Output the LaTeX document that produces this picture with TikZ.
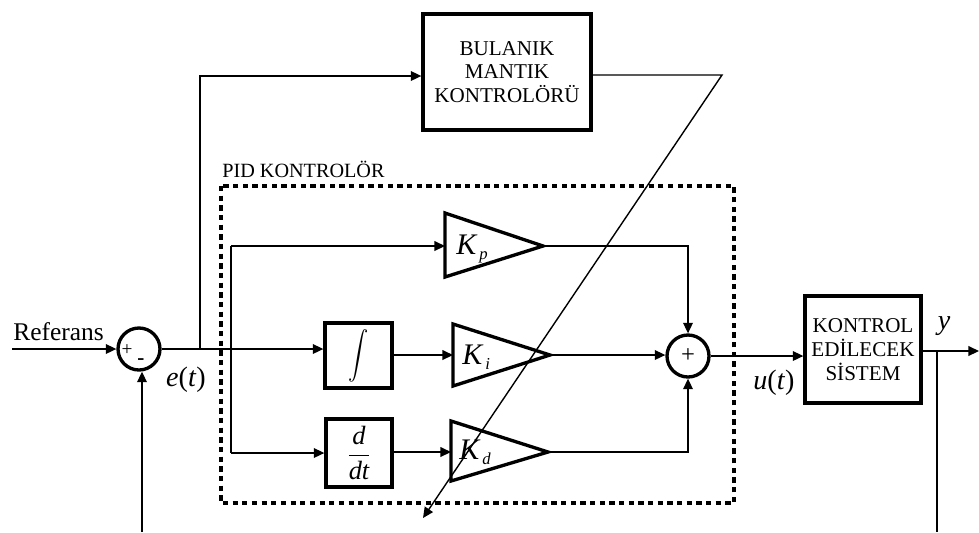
\documentclass[tikz,border=0pt]{standalone}
\usepackage{fontspec}
\usepackage{graphicx}
\setmainfont{Liberation Serif}
\usetikzlibrary{arrows.meta}
\newcommand{\gainlabel}[1]{\fontsize{17}{19}\selectfont\textit{K}\hspace{1pt}\raisebox{-3pt}{\fontsize{9.5}{11}\selectfont\textit{#1}}}
\begin{document}
\begin{tikzpicture}[x=0.02cm,y=-0.02cm,
  conn/.style={line width=0.8pt},
  arr/.style={conn,-{Triangle[length=6pt,width=5.5pt]}},
  blk/.style={draw,line width=1.9pt,inner sep=0pt,align=center,font=\fontsize{12}{13.5}\selectfont},
  sumc/.style={draw,circle,line width=1.9pt,minimum size=0.84cm,inner sep=0pt},
  gain/.style={draw,line width=1.9pt,line join=miter},
  lbl/.style={inner sep=0pt},
  pidbox/.style={line width=1.9pt,dash pattern=on 3pt off 2.5pt}
]
\useasboundingbox (0,0) rectangle (979,532);

% PID dashed frame
\draw[pidbox] (221,186) rectangle (734,503);
\node[lbl,anchor=base west,font=\fontsize{11.5}{13}\selectfont] (pidlbl) at (222,177) {PID KONTROLÖR};

% blocks
\node[blk,minimum width=1.34cm,minimum height=1.30cm] (int) at (358.5,355.5) {\scalebox{1.15}[1.35]{$\displaystyle\int$}};
\node[blk,minimum width=3.36cm,minimum height=2.32cm] (fuzzy) at (507,72) {BULANIK\\MANTIK\\KONTROLÖRÜ};
\node[blk,minimum width=1.32cm,minimum height=1.36cm] (ddt) at (359,453) {\fontsize{15}{18}\selectfont$\displaystyle\frac{\textit{d}}{\textit{dt}}$};
\node[blk,minimum width=2.32cm,minimum height=2.14cm] (plant) at (863,349.5) {KONTROL\\EDİLECEK\\SİSTEM};

% summing junctions
\node[sumc] (s1) at (139,349) {};
\node[lbl,font=\fontsize{11}{12}\selectfont] (plus1) at (127,350) {+};
\node[lbl,font=\fontsize{12}{12}\selectfont\bfseries] (minus1) at (141,362) {-};
\node[sumc] (s2) at (688,356) {};
\node[lbl,font=\fontsize{14}{14}\selectfont] (plus2) at (s2) {+};

% gains
\draw[gain] (445,213) -- (543,246) -- (445,277) -- cycle;
\coordinate (kpin) at (445,246); \coordinate (kpout) at (543,246);
\node[lbl,anchor=base west] (kp) at (456,254) {\gainlabel{p}};
\draw[gain] (453,324) -- (550,355) -- (453,386) -- cycle;
\coordinate (kiin) at (453,355); \coordinate (kiout) at (550,355);
\node[lbl,anchor=base west] (ki) at (462,364) {\gainlabel{i}};
\draw[gain] (451,421) -- (548,452) -- (451,481) -- cycle;
\coordinate (kdin) at (451,452); \coordinate (kdout) at (548,452);
\node[lbl,anchor=base west] (kd) at (459,459) {\gainlabel{d}};

% labels
\node[lbl,anchor=base west,font=\fontsize{14.5}{17}\selectfont] (reflbl) at (13,340) {Referans};
\node[lbl,font=\fontsize{16}{18}\selectfont] (et) at (186,380) {\textit{e}(\textit{t})};
\node[lbl,font=\fontsize{16}{18}\selectfont] (ut) at (774,383) {\textit{u}(\textit{t})};
\node[lbl,font=\fontsize{16}{18}\selectfont] (ylbl) at (944,326) {\textit{y}};

% coordinates
\coordinate (refin) at (12,349);
\coordinate (brA) at (200,349);
\coordinate (brB) at (231,349);
\coordinate (fzrow) at (0,76);
\coordinate (fzturn) at (722,75);
\coordinate (fzend) at (423,518);
\coordinate (yout) at (979,351);
\coordinate (ytap) at (937,351);
\coordinate (ybot) at (937,532);
\coordinate (fbbot) at (142,532);

% connectors
\draw[arr] (refin) -- (s1.west);
\draw[arr] (s1.east) -- (s1.east -| int.west);
\draw[arr] (brA) |- (fuzzy.west |- fzrow);
\draw[conn] (brB |- kpin) -- (brB |- ddt.west);
\draw[arr] (brB |- kpin) -- (kpin);
\draw[arr] (brB |- ddt.west) -- (ddt.west);
\draw[arr] (int.east |- kiin) -- (kiin);
\draw[arr] (ddt.east |- kdin) -- (kdin);
\draw[arr] (kpout) -| (s2.north);
\draw[arr] (kiout) -- (kiout -| s2.west);
\draw[arr] (kdout) -| (s2.south);
\draw[arr] (s2.east) -- (s2.east -| plant.west);
\draw[arr] (plant.east |- yout) -- (yout);
\draw[conn] (ytap) -- (ybot);
\draw[arr] (fbbot) -- (fbbot |- s1.south);
\draw[arr] (fuzzy.east |- fzturn) -- (fzturn) -- (fzend);
\end{tikzpicture}
\end{document}
